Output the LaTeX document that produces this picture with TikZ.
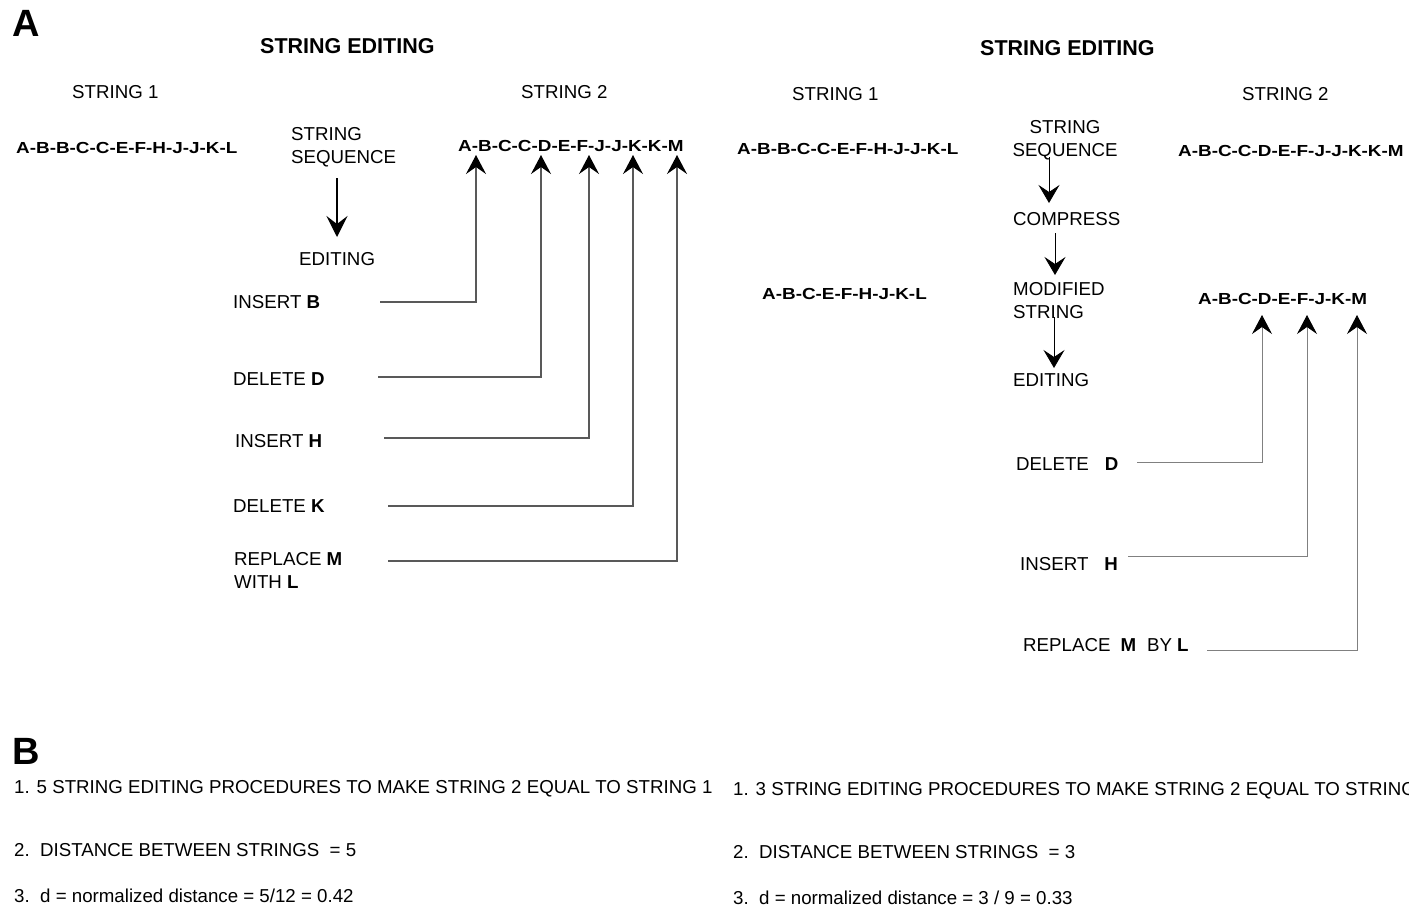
\documentclass[tikz,border=0pt]{standalone}
\usepackage{fontspec}
\setmainfont{Liberation Sans}
\usepackage{graphicx}
\usetikzlibrary{arrows.meta}
\newcommand\strseq[1]{\scalebox{1.18}[1]{\fontsize{16}{18}\selectfont\bfseries #1}}
\tikzset{
  txt/.style={anchor=north west,inner sep=0pt,font=\fontsize{18.7}{23}\selectfont},
  ttl/.style={anchor=north west,inner sep=0pt,font=\fontsize{21.5}{24}\selectfont\bfseries},
  big/.style={anchor=north west,inner sep=0pt,font=\fontsize{38}{42}\selectfont\bfseries},
  sq/.style={anchor=north west,inner sep=0pt},
  editln/.style={draw=black!65,line width=1.3pt,-{Stealth[length=19pt,width=20pt,inset=7pt,color=black]}},
  editlnR/.style={editln,line width=0.8pt,draw=black!50},
  flowarr/.style={line width=1.3pt,-{Stealth[length=21pt,width=21pt,inset=8pt]}},
  flowarrR/.style={line width=0.8pt,-{Stealth[length=18pt,width=21pt,inset=7pt]}},
}
\begin{document}
\begin{tikzpicture}[x=1pt,y=-1pt]
\useasboundingbox (0,0) rectangle (1409,911);
\clip (0,0) rectangle (1409,911);

% panel A, left
\node[big] (lblA) at (12,10) {A};
\node[ttl] (ttlL) at (260,38) {STRING EDITING};
\node[txt] (s1hL) at (72,85) {STRING 1};
\node[txt] (s2hL) at (521,85) {STRING 2};
\node[sq] (s1L) at (16,142) {\strseq{A-B-B-C-C-E-F-H-J-J-K-L}};
\node[sq] (s2L) at (458,140) {\strseq{A-B-C-C-D-E-F-J-J-K-K-M}};
\node[txt,align=left] (seqL) at (291,127) {STRING\\SEQUENCE};
\node[txt] (editL) at (299,252) {EDITING};
\coordinate (fL) at (337,178);
\draw[flowarr,shorten >=15pt] (fL) -- (fL |- editL.north);

\node[txt] (insB) at (233,295) {INSERT \textbf{B}};
\node[txt] (delD) at (233,372) {DELETE \textbf{D}};
\node[txt] (insH) at (235,434) {INSERT \textbf{H}};
\node[txt] (delK) at (233,499) {DELETE \textbf{K}};
\node[txt,align=left] (rplM) at (234,552) {REPLACE \textbf{M}\\WITH \textbf{L}};

\coordinate (cB) at (380,302); \coordinate (tB) at (476,155);
\coordinate (cD) at (378,377); \coordinate (tD) at (541,155);
\coordinate (cH) at (384,438); \coordinate (tH) at (589,155);
\coordinate (cK) at (388,506); \coordinate (tK) at (633,155);
\coordinate (cM) at (388,561); \coordinate (tM) at (677,155);
\foreach \e in {B,D,H,K,M}
  \draw[editln] (c\e) -| (t\e);

% panel A, right
\node[ttl] (ttlR) at (980,40) {STRING EDITING};
\node[txt] (s1hR) at (792,87) {STRING 1};
\node[txt] (s2hR) at (1242,87) {STRING 2};
\node[sq] (s1R) at (737,143) {\strseq{A-B-B-C-C-E-F-H-J-J-K-L}};
\node[sq] (s2R) at (1178,145) {\strseq{A-B-C-C-D-E-F-J-J-K-K-M}};
\node[sq] (c1R) at (762,288) {\strseq{A-B-C-E-F-H-J-K-L}};
\node[sq] (c2R) at (1198,293) {\strseq{A-B-C-D-E-F-J-K-M}};
\node[txt,align=center,anchor=north] (seqR) at (1065,120) {STRING\\SEQUENCE};
\node[txt] (cmpR) at (1013,212) {COMPRESS};
\node[txt,align=left] (modR) at (1013,282) {MODIFIED\\STRING};
\node[txt] (edR) at (1013,373) {EDITING};
\coordinate (f1) at (1049,157);
\coordinate (f2) at (1055,233);
\coordinate (f3) at (1054,317);
\draw[flowarrR,shorten >=9pt] (f1) -- (f1 |- cmpR.north);
\draw[flowarrR,shorten >=7pt] (f2) -- (f2 |- modR.north);
\draw[flowarrR,shorten >=5pt] (f3) -- (f3 |- edR.north);

\node[txt] (delDR) at (1016,457) {DELETE\hspace{16pt}\textbf{D}};
\node[txt] (insHR) at (1020,557) {INSERT\hspace{16pt}\textbf{H}};
\node[txt] (rplMR) at (1023,638) {REPLACE\hspace{10pt}\textbf{M}\hspace{11pt}BY \textbf{L}};
\coordinate (cDR) at (1137,462); \coordinate (tDR) at (1262,315);
\coordinate (cHR) at (1128,556); \coordinate (tHR) at (1307,315);
\coordinate (cMR) at (1207,650); \coordinate (tMR) at (1357,315);
\foreach \e in {D,H,M}
  \draw[editlnR] (c\e R) -| (t\e R);

% panel B
\node[big] (lblB) at (12,738) {B};
\node[txt] (b1L) at (14,780) {1. 5 STRING EDITING PROCEDURES TO MAKE STRING 2 EQUAL TO STRING 1};
\node[txt] (b2L) at (14,843) {2.\ \ DISTANCE BETWEEN STRINGS\ \ = 5};
\node[txt] (b3L) at (14,889) {3.\ \ d = normalized distance = 5/12 = 0.42};
\node[txt] (b1R) at (733,782) {1. 3 STRING EDITING PROCEDURES TO MAKE STRING 2 EQUAL TO STRING 1};
\node[txt] (b2R) at (733,845) {2.\ \ DISTANCE BETWEEN STRINGS\ \ = 3};
\node[txt] (b3R) at (733,891) {3.\ \ d = normalized distance = 3 / 9 = 0.33};
\end{tikzpicture}
\end{document}
